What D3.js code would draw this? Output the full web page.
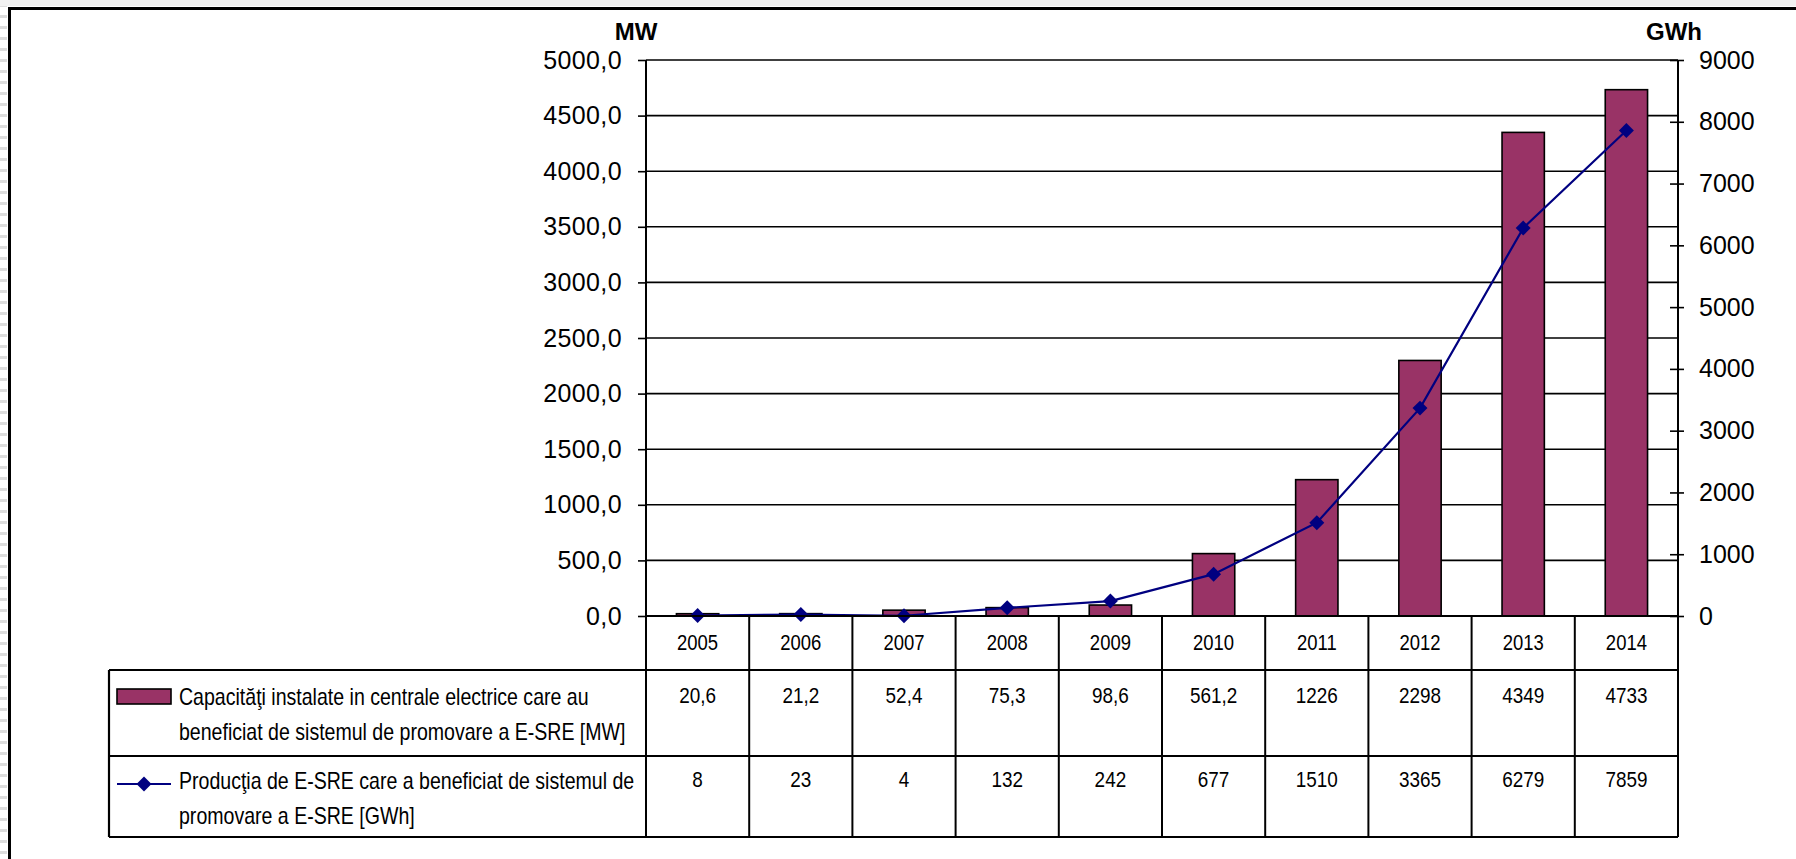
<!DOCTYPE html>
<html>
<head>
<meta charset="utf-8">
<script src="https://cdn.jsdelivr.net/npm/d3@7"></script>
<style>
  html, body { margin: 0; padding: 0; background: #fff; }
  svg { display: block; font-family: "Liberation Sans", Arial, sans-serif; }
</style>
</head>
<body>
<svg id="chart" width="1796" height="859"></svg>
<script>
// data
const years = ['2005', '2006', '2007', '2008', '2009', '2010', '2011', '2012', '2013', '2014'];
const capacityMW = [20.6, 21.2, 52.4, 75.3, 98.6, 561.2, 1226, 2298, 4349, 4733];
const productionGWh = [8, 23, 4, 132, 242, 677, 1510, 3365, 6279, 7859];
const leftTicks = [0, 500, 1000, 1500, 2000, 2500, 3000, 3500, 4000, 4500, 5000];
const rightTicks = [0, 1000, 2000, 3000, 4000, 5000, 6000, 7000, 8000, 9000];
const capacityLabel = ['Capacităţi instalate in centrale electrice care au', 'beneficiat de sistemul de promovare a E-SRE [MW]'];
const productionLabel = ['Producţia de E-SRE care a beneficiat de sistemul de', 'promovare a E-SRE [GWh]'];

const svg = d3.select('#chart');
const plotL = 646, plotR = 1678, plotT = 60, plotB = 616;
const rowYear = 670, rowCap = 756, rowProd = 837, tableL = 109;
const barColor = '#993366', lineColor = '#000080';

const commaFmt = v => v.toFixed(1).replace('.', ',');
const mwFmt = v => v < 1000 ? commaFmt(v) : String(v);

// narrow text: the original uses a condensed face, so scale x only
function narrowText(parent, cls, data, xf, y, k, size, anchor, fmt) {
  parent.selectAll('g.' + cls)
    .data(data)
    .enter().append('g').attr('class', cls)
    .attr('transform', (d, i) => 'translate(' + xf(d, i) + ',' + y(d, i) + ') scale(' + k + ',1)')
    .append('text')
    .attr('text-anchor', anchor).attr('font-size', size)
    .text(fmt);
}

// page frame (cropped box: top and left edges)
const stripe = svg.append('g');
for (let i = 0; i < 80; i++) {
  stripe.append('rect').attr('x', 0).attr('y', 4 + i * 11).attr('width', 7).attr('height', 3).attr('fill', '#dcdcdc');
}
stripe.append('rect').attr('x', 0).attr('y', 0).attr('width', 1796).attr('height', 6).attr('fill', '#f1f1f1');
svg.append('line').attr('x1', 8).attr('x2', 1796).attr('y1', 8.5).attr('y2', 8.5).attr('stroke', '#000').attr('stroke-width', 3);
svg.append('line').attr('x1', 9.5).attr('x2', 9.5).attr('y1', 8).attr('y2', 859).attr('stroke', '#000').attr('stroke-width', 3);

const x = d3.scaleBand().domain(years).range([plotL, plotR]).padding(0);
const yL = d3.scaleLinear().domain([0, 5000]).range([plotB, plotT]);
const yR = d3.scaleLinear().domain([0, 9000]).range([plotB, plotT]);
const cx = (d, i) => x(years[i]) + x.bandwidth() / 2;

// gridlines
svg.append('g').selectAll('line')
  .data(leftTicks.filter(d => d > 0))
  .enter().append('line')
  .attr('x1', plotL).attr('x2', plotR)
  .attr('y1', d => yL(d)).attr('y2', d => yL(d))
  .attr('stroke', '#000').attr('stroke-width', 1.6);

// left axis
const gl = svg.append('g')
  .attr('transform', 'translate(' + plotL + ',0)')
  .call(d3.axisLeft(yL).tickValues(leftTicks).tickSize(8).tickSizeOuter(0).tickPadding(16).tickFormat(commaFmt));
gl.select('.domain').remove();
gl.selectAll('.tick line').attr('stroke', '#000').attr('stroke-width', 1.6);
gl.selectAll('.tick text').attr('font-size', 25).attr('letter-spacing', 0.4)
  .attr('font-family', 'Liberation Sans, Arial').attr('fill', '#000');

// right axis
const gr = svg.append('g')
  .attr('transform', 'translate(' + plotR + ',0)')
  .call(d3.axisRight(yR).tickValues(rightTicks).tickSize(6).tickSizeOuter(0).tickPadding(15).tickFormat(d3.format('d')));
gr.select('.domain').remove();
gr.selectAll('.tick line').attr('x1', -8).attr('stroke', '#000').attr('stroke-width', 1.6);
gr.selectAll('.tick text').attr('font-size', 25).attr('font-family', 'Liberation Sans, Arial').attr('fill', '#000');

svg.append('line').attr('x1', plotR).attr('x2', plotR).attr('y1', plotT).attr('y2', rowProd)
  .attr('stroke', '#000').attr('stroke-width', 2);

// unit titles
svg.append('text').attr('x', plotL - 10).attr('y', 40).attr('text-anchor', 'middle')
  .attr('font-size', 24).attr('font-weight', 'bold').text('MW');
svg.append('text').attr('x', plotR - 4).attr('y', 40).attr('text-anchor', 'middle')
  .attr('font-size', 24).attr('font-weight', 'bold').text('GWh');

// bars
const barW = x.bandwidth() * 0.41;
svg.append('g').selectAll('rect')
  .data(years)
  .enter().append('rect')
  .attr('x', d => x(d) + (x.bandwidth() - barW) / 2)
  .attr('y', (d, i) => yL(capacityMW[i]))
  .attr('width', barW)
  .attr('height', (d, i) => plotB - yL(capacityMW[i]))
  .attr('fill', barColor).attr('stroke', '#000').attr('stroke-width', 1.6);

// production line
const line = d3.line()
  .x(cx)
  .y(d => yR(d));
svg.append('path').datum(productionGWh)
  .attr('d', line).attr('fill', 'none').attr('stroke', lineColor).attr('stroke-width', 2.2);
const diamond = d3.symbol().type(d3.symbolSquare).size(112);
svg.append('g').selectAll('path')
  .data(productionGWh)
  .enter().append('path')
  .attr('d', diamond)
  .attr('transform', (d, i) => 'translate(' + cx(d, i) + ',' + yR(d) + ') rotate(45)')
  .attr('fill', lineColor);

// left axis line and zero line
svg.append('line').attr('x1', plotL).attr('x2', plotL).attr('y1', plotT).attr('y2', rowProd)
  .attr('stroke', '#000').attr('stroke-width', 2);
svg.append('line').attr('x1', plotL).attr('x2', plotR).attr('y1', plotB).attr('y2', plotB)
  .attr('stroke', '#000').attr('stroke-width', 2.2);

// data table
const table = svg.append('g');
table.selectAll('line.vsep')
  .data(years.slice(1))
  .enter().append('line').attr('class', 'vsep')
  .attr('x1', d => x(d)).attr('x2', d => x(d))
  .attr('y1', plotB).attr('y2', rowProd)
  .attr('stroke', '#000').attr('stroke-width', 2);
[rowYear, rowCap, rowProd].forEach(yy => {
  table.append('line').attr('x1', tableL).attr('x2', plotR).attr('y1', yy).attr('y2', yy)
    .attr('stroke', '#000').attr('stroke-width', 2.2);
});
table.append('line').attr('x1', tableL).attr('x2', tableL).attr('y1', rowYear).attr('y2', rowProd)
  .attr('stroke', '#000').attr('stroke-width', 2.2);

narrowText(table, 'year', years, cx, () => 650, 0.84, 22, 'middle', d => d);
narrowText(table, 'cap', capacityMW, cx, () => 703, 0.86, 22, 'middle', mwFmt);
narrowText(table, 'prod', productionGWh, cx, () => 787, 0.86, 22, 'middle', d => d);

// legend keys
table.append('rect').attr('x', 117).attr('y', 689).attr('width', 54).attr('height', 15)
  .attr('fill', barColor).attr('stroke', '#000').attr('stroke-width', 1.6);
table.append('line').attr('x1', 117).attr('x2', 171).attr('y1', 784).attr('y2', 784)
  .attr('stroke', lineColor).attr('stroke-width', 2.2);
table.append('path').attr('d', diamond).attr('transform', 'translate(144,784) rotate(45)').attr('fill', lineColor);

narrowText(table, 'leg', capacityLabel.concat(productionLabel), () => 179,
  (d, i) => [705, 740, 789, 824][i], 0.815, 24, 'start', d => d);
</script>
</body>
</html>
